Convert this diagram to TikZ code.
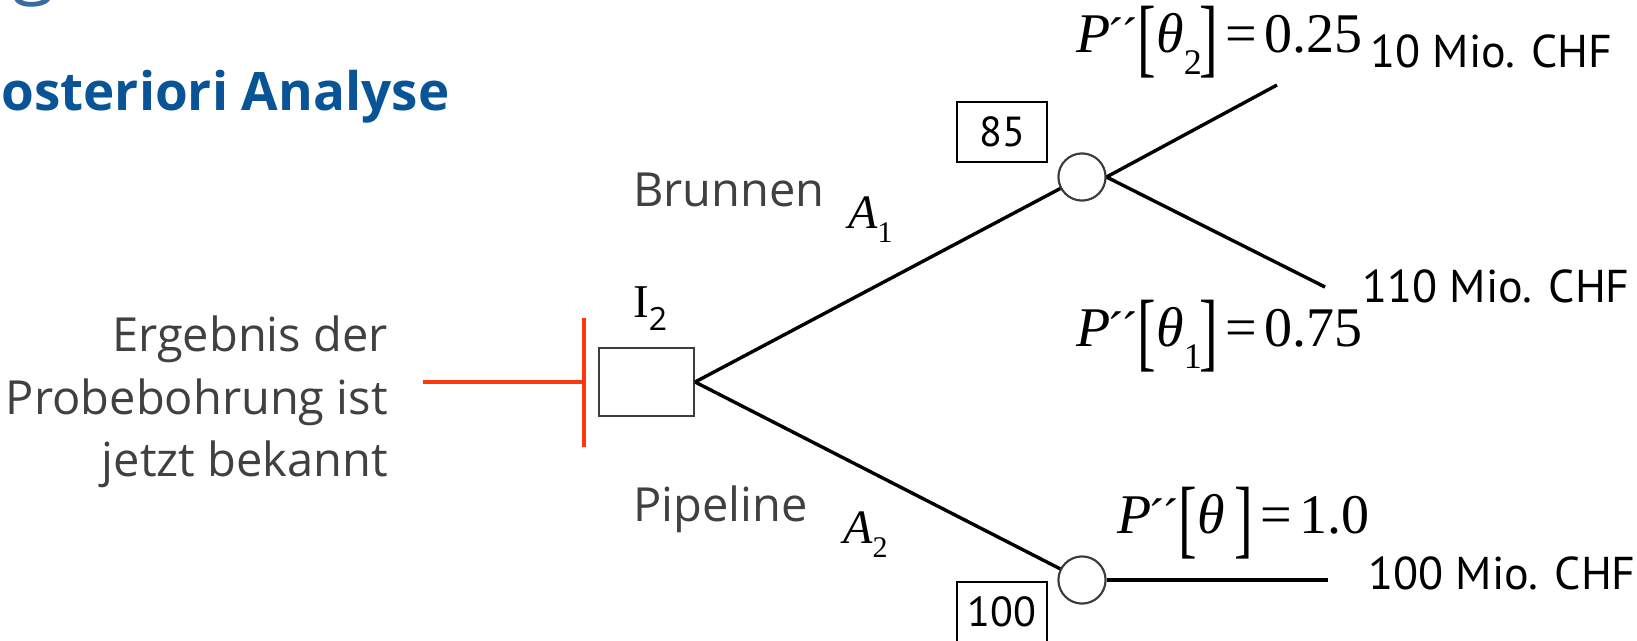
\documentclass[tikz,border=0pt]{standalone}
\usepackage{fontspec}
\usepackage{graphicx}
\setmainfont{Open Sans}
\newfontfamily\tmsfont{Liberation Serif}
\newfontfamily\myrfont{PT Sans}
\definecolor{greytxt}{RGB}{64,64,64}
\definecolor{titleblue}{RGB}{8,84,150}
\definecolor{gblue}{RGB}{60,106,160}
\definecolor{redline}{RGB}{255,55,10}
\definecolor{boxgrey}{RGB}{60,60,60}
\newcommand{\bigbrack}[1]{\raisebox{-26pt}{\resizebox*{\width}{72pt}{\raisebox{\depth}{#1}}}}
\newcommand{\probexpr}[2]{%
 {\tmsfont\fontsize{56}{60}\selectfont
 \textit{P}\kern-3pt{\fontsize{50}{50}\selectfont ´\kern-3pt´}\kern0pt
 \bigbrack{[}\textit{θ}%
 \raisebox{-22pt}{\fontsize{36}{36}\selectfont #1}\kern-2pt
 \bigbrack{]}\kern7pt=\kern7pt#2}}
\begin{document}
\begin{tikzpicture}[x=1pt,y=-1pt,
  greytext/.style={text=greytxt,font=\fontsize{47}{50}\selectfont,inner sep=0},
  mio/.style={font=\myrfont\fontsize{46}{50}\selectfont,inner sep=0,anchor=base west},
  prob/.style={inner sep=0,anchor=base west},
  valbox/.style={draw=black,line width=1.5pt,minimum width=90,minimum height=60,inner sep=0,font=\myrfont\fontsize{42}{48}\selectfont},
  chance/.style={circle,draw=boxgrey,line width=2pt,minimum size=47,inner sep=0,fill=white},
  decision/.style={rectangle,draw=boxgrey,line width=2.2pt,minimum width=95,minimum height=68,inner sep=0},
  branch/.style={line width=3.4pt,black},
  redbar/.style={line width=4pt,redline},
  mathlbl/.style={inner sep=0,anchor=base west,font=\tmsfont\fontsize{48}{54}\selectfont}]
\useasboundingbox (0,0) rectangle (1637,640);
\clip (0,0) rectangle (1637,640);
% title fragments
\node[inner sep=0,anchor=base west,text=gblue,font=\fontsize{78}{80}\selectfont] (gfrag) at (12,-12) {g};
\node[inner sep=0,anchor=base west,text=titleblue,font=\bfseries\fontsize{53}{60}\selectfont] (title) at (-32,110) {Posteriori Analyse};
% left text
\node[greytext,anchor=base east] (l1) at (388,351) {Ergebnis der};
\node[greytext,anchor=base east] (l2) at (388,414) {Probebohrung ist};
\node[greytext,anchor=base east] (l3) at (388,476) {jetzt bekannt};
% red marker
\coordinate (ra) at (423,382);
\coordinate (rb) at (584,382);
\coordinate (rt) at (584,318);
\coordinate (rbot) at (584,447);
\draw[redbar] (ra) -- (rb);
\draw[redbar] (rt) -- (rbot);
% nodes
\node[decision] (dec) at (646.5,382) {};
\node[chance] (c1) at (1082,177) {};
\node[chance] (c2) at (1082,580) {};
\coordinate (e1) at (1277,85);
\coordinate (e2) at (1325,287);
\coordinate (e3) at (1328,580);
\draw[branch] (dec.east) -- (c1);
\draw[branch] (dec.east) -- (c2);
\draw[branch] (c1.east) -- (e1);
\draw[branch] (c1.east) -- (e2);
\draw[branch] (c2.east) -- (e3);
\node[chance] at (c1) {};
\node[chance] at (c2) {};
% labels
\node[inner sep=0,anchor=base west] (i2) at (633,317) {{\tmsfont\fontsize{47}{50}\selectfont I}\raisebox{-13pt}{\fontsize{32}{34}\selectfont 2}};
\node[greytext,anchor=base west] (brun) at (633,206) {Brunnen};
\node[greytext,anchor=base west] (pipe) at (633,521) {Pipeline};
\node[mathlbl] (a1) at (848,228) {\textit{A}\raisebox{-14pt}{\fontsize{30}{30}\selectfont 1}};
\node[mathlbl] (a2) at (843,543) {\textit{A}\raisebox{-14pt}{\fontsize{30}{30}\selectfont 2}};
\node[valbox] (v85) at (1002,132) {85};
\node[valbox] (v100) at (1002,612) {100};
\node[prob] (p2) at (1076,52) {\probexpr{2}{0.25}};
\node[prob] (p1) at (1076,346) {\probexpr{1}{0.75}};
\node[prob] (p0) at (1117,533) {\probexpr{\kern12pt}{1.0}};
\node[mio] (m10) at (1370,67) {10 Mio. CHF};
\node[mio] (m110) at (1362,302) {110 Mio. CHF};
\node[mio] (m100) at (1368,589) {100 Mio. CHF};
\end{tikzpicture}
\end{document}
